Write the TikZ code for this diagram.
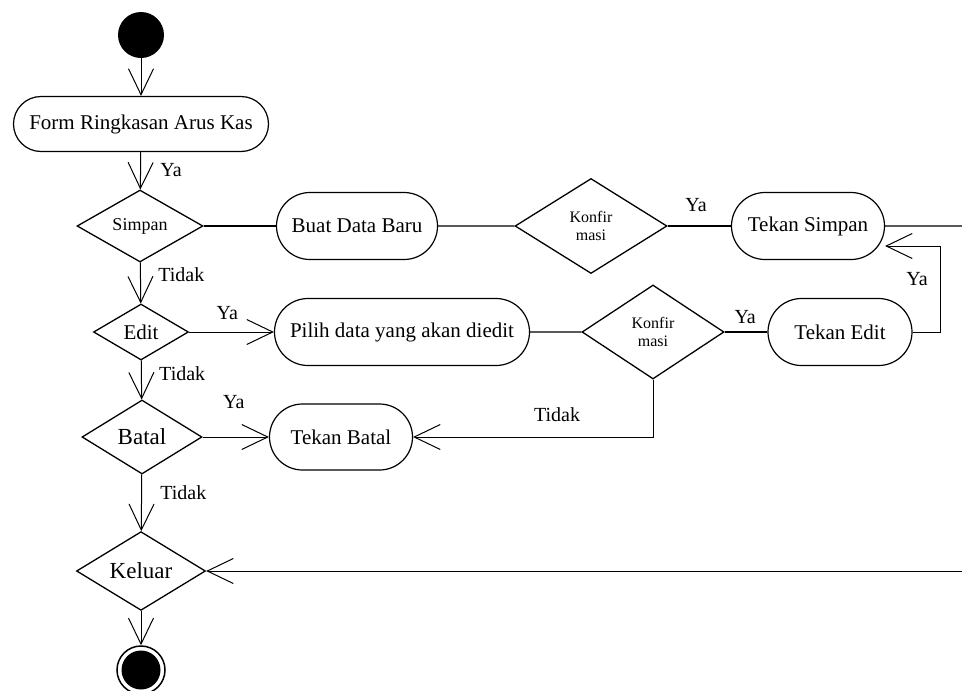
\documentclass[tikz,border=0pt]{standalone}
\usepackage{fontspec}
\setmainfont{Liberation Serif}
\usetikzlibrary{shapes.geometric,shapes.misc,arrows.meta}

\begin{document}
\begin{tikzpicture}[x=1pt,y=-1pt,
    aksi/.style={draw,rounded rectangle,line width=1.2pt,inner sep=0pt,font=\fontsize{21}{24}\selectfont},
    pilihan/.style={draw,diamond,line width=1.3pt,inner sep=0pt,align=center},
    lbl/.style={font=\fontsize{20}{22}\selectfont},
    panah/.style={-{Straight Barb[length=26pt,width=25pt]},line width=1pt}]
    \useasboundingbox (0,0) rectangle (962,691);
    % start dan selesai
    \node[circle,fill=black,minimum size=46pt,inner sep=0pt] (mulai) at (141,35) {};
    \node[circle,draw,line width=1.5pt,minimum size=48pt,inner sep=0pt] (selesai) at (141,670) {};
    \fill (selesai.center) circle (19.5pt);
    % aktivitas
    \node[aksi,minimum width=255pt,minimum height=55pt] (form) at (141,124) {Form Ringkasan Arus Kas};
    \node[aksi,minimum width=161pt,minimum height=67pt] (buat) at (357,226) {Buat Data Baru};
    \node[aksi,minimum width=153pt,minimum height=67pt] (tekanS) at (808,226) {Tekan Simpan};
    \node[aksi,minimum width=255pt,minimum height=67pt] (pilih) at (402,332) {Pilih data yang akan diedit};
    \node[aksi,minimum width=144pt,minimum height=67pt] (tekanE) at (840,332) {Tekan Edit};
    \node[aksi,minimum width=143pt,minimum height=66pt] (tekanB) at (341,437) {Tekan Batal};
    % keputusan
    \node[pilihan,minimum width=126pt,minimum height=72pt,font=\fontsize{18}{20}\selectfont] (simpan) at (140,226) {Simpan};
    \node[pilihan,minimum width=152pt,minimum height=95pt,font=\fontsize{16}{18}\selectfont] (konfirA) at (591,226) {Konfir\\masi};
    \node[pilihan,minimum width=95pt,minimum height=56pt,font=\fontsize{21}{24}\selectfont] (edit) at (141,332) {Edit};
    \node[pilihan,minimum width=142pt,minimum height=94pt,font=\fontsize{16}{18}\selectfont] (konfirB) at (653,332) {Konfir\\masi};
    \node[pilihan,minimum width=120pt,minimum height=74pt,font=\fontsize{23}{26}\selectfont] (batal) at (142,437) {Batal};
    \node[pilihan,minimum width=129pt,minimum height=72pt,font=\fontsize{23}{26}\selectfont] (keluar) at (141,571) {Keluar};
    \coordinate (kananA) at (962,226);
    \coordinate (kananB) at (962,571);
    % alur
    \draw[panah] (mulai) -- (form);
    \draw[panah] (form) -- node[lbl,right,pos=0.47,xshift=16pt]{Ya} (simpan);
    \draw[panah] (simpan) -- node[lbl,right,pos=0.29,xshift=14pt]{Tidak} (edit);
    \draw[panah] (edit) -- node[lbl,right,pos=0.34,xshift=14pt]{Tidak} (batal);
    \draw[panah] (batal) -- node[lbl,right,pos=0.32,xshift=15pt]{Tidak} (keluar);
    \draw[panah] (keluar) -- (selesai);
    \draw[line width=1.2pt] (simpan) -- (buat);
    \draw[line width=1.2pt] (buat) -- (konfirA);
    \draw[line width=1.2pt] (konfirA) -- node[lbl,pos=0.45,yshift=21pt]{Ya} (tekanS);
    \draw[line width=1.2pt] (tekanS) -- (kananA);
    \draw[panah] (edit) -- node[lbl,pos=0.45,yshift=19pt]{Ya} (pilih);
    \draw[line width=1.2pt] (pilih) -- (konfirB);
    \draw[line width=1.2pt] (konfirB) -- node[lbl,pos=0.48,yshift=15pt]{Ya} (tekanE);
    \draw[panah] (tekanE.east) -- ++(28,0) |- node[lbl,left,pos=0.31,xshift=-9pt]{Ya} ([yshift=-20pt]tekanS.east);
    \draw[panah] (batal) -- node[lbl,pos=0.47,yshift=35pt]{Ya} (tekanB);
    \draw[panah] (konfirB.south) |- node[lbl,pos=0.7,yshift=22pt]{Tidak} (tekanB.east);
    \draw[panah] (kananB) -- (keluar.east);
\end{tikzpicture}
\end{document}
